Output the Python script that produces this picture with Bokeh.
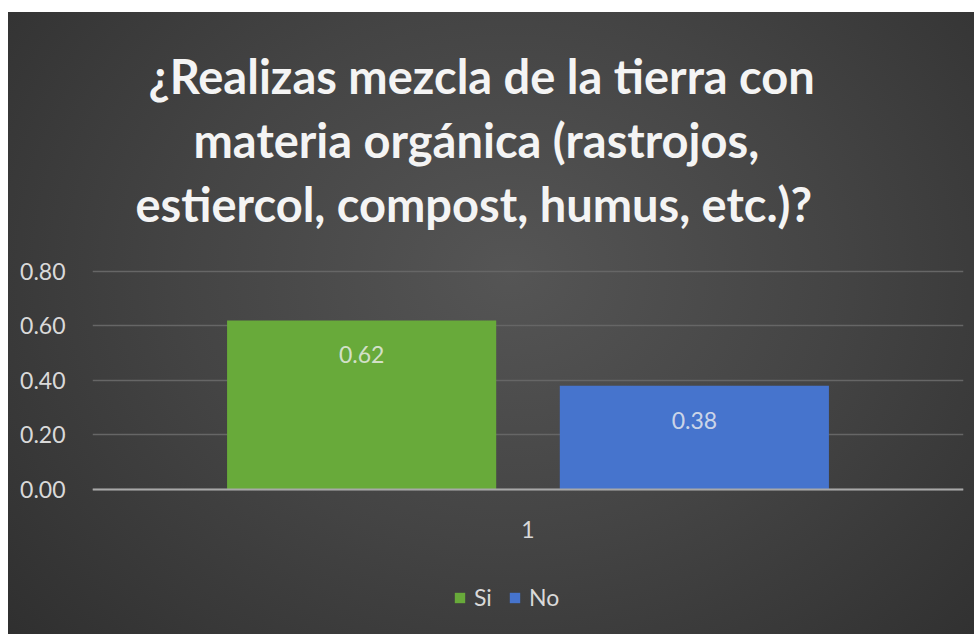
from bokeh.plotting import figure
from bokeh.models import (FactorRange, Range1d, Legend, LegendItem, Title,
                          ColumnDataSource, NumeralTickFormatter, FixedTicker)
from bokeh.transform import dodge
from bokeh.embed import file_html
from bokeh.resources import INLINE
from bokeh.core.properties import value

# ---- data ----
categories = ["1"]
series_names = ["Si", "No"]
si_values = [0.62]
no_values = [0.38]
y_ticks = [0.0, 0.2, 0.4, 0.6, 0.8]
title_lines = ["¿Realizas mezcla de la tierra con",
               "materia orgánica (rastrojos,",
               "estiercol, compost, humus, etc.)?"]

TXT = "#d9d9d9"
GREEN = "#68aa3a"
BLUE = "#4674cd"
BG_CSS = ("radial-gradient(ellipse 75% 95% at 52% 42%, "
          "#555555 0%, #444444 45%, #2c2c2c 100%)")

src = ColumnDataSource(dict(
    cat=categories,
    si=si_values,
    no=no_values,
    si_lbl=[f"{v:.2f}" for v in si_values],
    no_lbl=[f"{v:.2f}" for v in no_values],
))

W, H = 966, 622
# frame spans from just above the 0.80 gridline down to the bottom of the canvas;
# the x axis is pinned at y = 0 inside it
p = figure(width=W, height=H, x_range=FactorRange(factors=categories, range_padding=0),
           y_range=Range1d(-0.5346, 0.8074), output_backend="svg", toolbar_location=None,
           min_border_left=84, min_border_right=11, min_border_top=10,
           min_border_bottom=0)
p.margin = (12, 0, 0, 8)
p.styles = {"background": BG_CSS}
p.outline_line_color = None
p.background_fill_alpha = 0
p.border_fill_alpha = 0

off = 0.191
bw = 0.309
r_si = p.vbar(x=dodge("cat", -off, range=p.x_range), top="si", bottom=0, width=bw,
              source=src, fill_color=GREEN, line_color=None)
r_no = p.vbar(x=dodge("cat", off, range=p.x_range), top="no", bottom=0, width=bw,
              source=src, fill_color=BLUE, line_color=None)

p.text(x=dodge("cat", -off, range=p.x_range), y="si", text="si_lbl", source=src,
       text_font=value("Lato"), text_font_size="23px", text_color="#f0f0f0", text_alpha=0.8,
       text_align="center", text_baseline="middle", y_offset=34)
p.text(x=dodge("cat", off, range=p.x_range), y="no", text="no_lbl", source=src,
       text_font=value("Lato"), text_font_size="23px", text_color="#f0f0f0", text_alpha=0.8,
       text_align="center", text_baseline="middle", y_offset=35)

# axes
p.xgrid.grid_line_color = None
p.ygrid.grid_line_color = "#666666"
p.ygrid.grid_line_width = 1.5
p.yaxis.ticker = FixedTicker(ticks=y_ticks)
p.yaxis.formatter = NumeralTickFormatter(format="0.00")
p.yaxis.axis_line_color = None
p.yaxis.major_tick_line_color = None
p.yaxis.minor_tick_line_color = None
p.yaxis.major_label_text_font = "Lato"
p.yaxis.major_label_text_font_size = "23px"
p.yaxis.major_label_text_color = TXT
p.yaxis.major_label_standoff = 21

p.xaxis.fixed_location = 0
p.xaxis.axis_line_color = "#a8a8a8"
p.xaxis.axis_line_width = 2
p.xaxis.major_tick_line_color = None
p.xaxis.minor_tick_line_color = None
p.xaxis.major_label_text_font = "Lato"
p.xaxis.major_label_text_font_size = "23px"
p.xaxis.major_label_text_color = TXT
p.xaxis.major_label_standoff = 26

# title: spacer next to the frame, the three lines stacked outward, spacer on top
p.add_layout(Title(text=" ", text_font_size="1px", standoff=32), "above")
offsets = [56, 101, 43]
for line, o in reversed(list(zip(title_lines, offsets))):
    p.add_layout(Title(text=line, align="left", offset=o, standoff=6,
                       text_font="Lato", text_font_style="bold", text_font_size="47px",
                       text_color="#f4f4f4"), "above")
p.add_layout(Title(text=" ", text_font_size="1px", standoff=27), "above")

legend = Legend(items=[LegendItem(label=series_names[0], renderers=[r_si]),
                       LegendItem(label=series_names[1], renderers=[r_no])],
                orientation="horizontal", location=(361, 23),
                background_fill_alpha=0, border_line_color=None,
                glyph_width=13, glyph_height=13, label_standoff=8, spacing=14,
                padding=0, margin=0, label_text_font="Lato", label_text_font_size="23px",
                label_text_color=TXT, label_height=24)
p.add_layout(legend, "center")

open("out.html", "w").write(file_html(p, INLINE))
